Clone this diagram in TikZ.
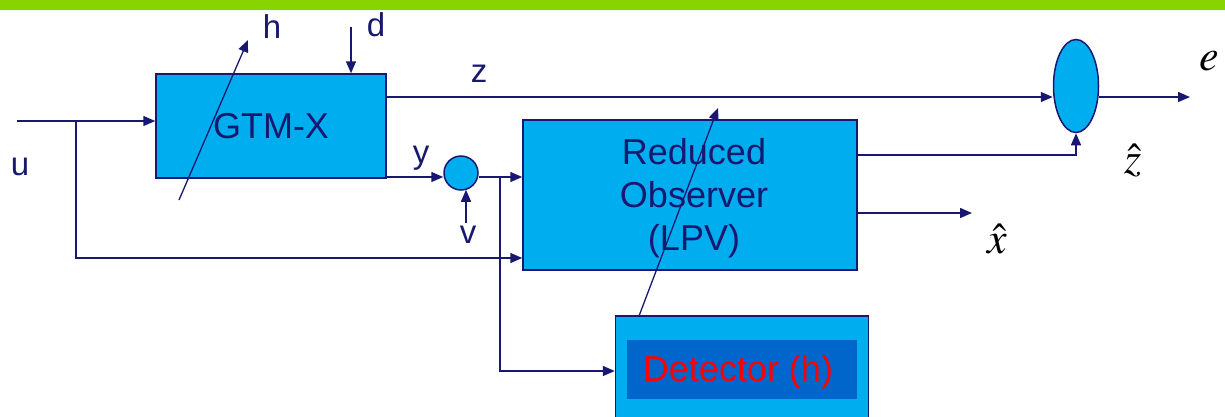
\documentclass[tikz,border=0pt]{standalone}
\usepackage{mathptmx}
\usepackage{fontspec}
\setmainfont{Liberation Sans}
\usepackage{tikz}
\usetikzlibrary{positioning, arrows.meta, calc, shapes.geometric}
\definecolor{navy}{RGB}{24,24,112}
\definecolor{boxblue}{RGB}{0,174,239}
\definecolor{detblue}{RGB}{0,102,204}
\definecolor{bargreen}{RGB}{136,212,0}
\tikzset{
  block/.style={draw=navy, rectangle, line width=1.5pt, fill=boxblue,
                align=center, text=navy, font=\fontsize{36}{43}\selectfont},
  sum/.style  ={draw=navy, circle, line width=1.5pt, fill=boxblue, minimum size=34pt, inner sep=0pt},
  line/.style ={draw=navy, line width=1.5pt, -{Triangle[length=12pt,width=10pt]}},
  wire/.style ={draw=navy, line width=1.5pt},
  lbl/.style  ={text=navy, font=\fontsize{33}{33}\selectfont, anchor=base, inner sep=0pt},
  mlbl/.style ={font=\fontsize{44}{44}\selectfont, anchor=base, inner sep=0pt}
}

\begin{document}
\begin{tikzpicture}[x=1pt, y=-1pt]
  \clip (0,0) rectangle (1225,416);
  % top bar
  \fill[bargreen] (0,0) rectangle (1225,10);

  \node[block, minimum width=230, minimum height=104] (gtm) at (271,126) {GTM-X};
  \node[sum] (ysum) at (461,173) {};
  \node[block, minimum width=334, minimum height=150] (obs) at (690,195) {};
  \node[text=navy, align=center, font=\fontsize{36}{43}\selectfont] (obstxt) at (694,198)
       {Reduced\\Observer\\(LPV)};
  \node[block, minimum width=253, minimum height=110] (det) at (742,371) {};
  \node[fill=detblue, minimum width=230, minimum height=59, inner sep=0pt] (detin) at (742,369) {};
  \node[text=red, font=\fontsize{36}{36}\selectfont] (dettxt) at (738,372) {Detector (h)};
  \node[draw=navy, line width=1.5pt, fill=boxblue, ellipse, minimum width=45,
        minimum height=93, inner sep=0pt] (cmp) at (1076,86) {};

  \coordinate (uin)   at (17,121);
  \coordinate (ujoin) at (76,121);
  \coordinate (dsrc)  at (351,27);
  \coordinate (hbot)  at (179,200);
  \coordinate (htip)  at (248,40);
  \coordinate (vsrc)  at (466,223);
  \coordinate (yout)  at (386,177);
  \coordinate (sjoin) at (500,177);
  \coordinate (zout)  at (386,97);
  \coordinate (eout)  at (1190,97);
  \coordinate (zhout) at (857,155);
  \coordinate (xhout) at (857,213);
  \coordinate (xhend) at (972,213);
  \coordinate (dbot)  at (639,316);
  \coordinate (dtip)  at (718,108);

  % input u
  \draw[line] (uin) -- (uin -| gtm.west);
  \draw[line] (ujoin) |- ($(obs.west)+(0,63)$);
  % disturbance
  \draw[line] (dsrc) -- (dsrc |- gtm.north);
  % output y plus noise
  \draw[line] (yout) -- (yout -| ysum.west);
  \draw[line] (vsrc) -- ($(vsrc |- ysum.south)+(0,-1)$);
  \draw[wire] (ysum.east |- sjoin) -- (sjoin);
  \draw[line] (sjoin) -- (sjoin -| obs.west);
  \draw[line] (sjoin) |- (det.west);
  % z to comparator
  \draw[line] (zout) -- (zout -| cmp.west);
  \draw[line] (cmp.east |- eout) -- (eout);
  % observer outputs
  \draw[line] (zhout) -| (cmp.south);
  \draw[line] (xhout) -- (xhend);
  % scheduling arrows
  \draw[line, line width=1.3pt] (hbot) -- (htip);
  \draw[line, line width=1.3pt] (dbot) -- (dtip);

  % labels
  \node[lbl] (lu) at (20,175)  {u};
  \node[lbl] (lh) at (272,38)  {h};
  \node[lbl] (ld) at (376,36)  {d};
  \node[lbl] (lz) at (479,82)  {z};
  \node[lbl] (ly) at (421,163) {y};
  \node[lbl] (lv) at (468,243) {v};
  \node[mlbl] (le)  at (1209,70)  {$e$};
  \node[mlbl] (lzh) at (1133,173) {$\hat{z}$};
  \node[mlbl] (lxh) at (997,253)  {$\hat{x}$};
\end{tikzpicture}
\end{document}
